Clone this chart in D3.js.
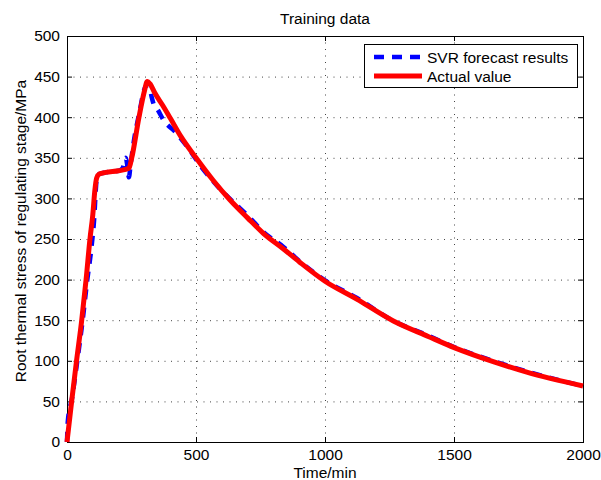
<!DOCTYPE html>
<html>
<head>
<meta charset="utf-8">
<script src="https://cdn.jsdelivr.net/npm/d3@7"></script>
<style>
	body { margin: 0; background: #fff; }
	svg { font-family: "Liberation Sans", Arial, sans-serif; }
</style>
</head>
<body>
<svg id="svg-port" width="601" height="480"></svg>
<script>
// values
var actualTime = [0, 18, 37, 57, 74, 89, 100, 108, 115, 125, 150, 200, 240, 251, 279, 300, 311, 322, 340, 370, 400, 440, 500, 567, 632, 700, 761, 838, 900, 1000, 1123, 1265, 1400, 1503, 1652, 1782, 2000];
var actualValue = [0, 50, 100, 150, 200, 250, 280, 310, 325, 330, 332, 334, 337, 350, 400, 432, 444, 441, 430, 415, 399, 377, 350, 322, 298, 276, 257, 238, 222, 198, 176, 149, 130, 116, 99, 86, 69];

var svrTime = [0, 3, 20, 40, 60, 78, 95, 106, 112, 116, 125, 150, 200, 215, 228, 233, 240, 246, 255, 280, 305, 318, 328, 336, 350, 373, 425, 470, 527, 570, 610, 650, 700, 760, 840, 900, 1000, 1120, 1260, 1400, 1500, 1650, 1780, 2000];
var svrValue = [0, 25, 55, 100, 148, 198, 240, 278, 312, 327, 330, 332, 334, 337, 350, 342, 326, 340, 362, 405, 438, 440, 425, 416, 410, 397, 380, 362, 336, 320, 306, 294, 279, 259, 240, 223, 199, 178, 150, 131, 117, 100, 87, 69];

var xTicks = [0, 500, 1000, 1500, 2000];
var yTicks = [0, 50, 100, 150, 200, 250, 300, 350, 400, 450, 500];
var legendLabels = ['SVR forecast results', 'Actual value'];

var svg = d3.select('#svg-port');
var plotLeft = 67, plotRight = 583, plotTop = 36, plotBottom = 442;

var xScale = d3.scaleLinear().domain([0, 2000]).range([plotLeft, plotRight]);
var yScale = d3.scaleLinear().domain([0, 500]).range([plotBottom, plotTop]);

///grid
var grid = svg.append('g');
grid.selectAll('.gx').data(xTicks.slice(1, -1)).enter()
	.append('line')
	.attr('x1', function (d) { return xScale(d) + 0.5 })
	.attr('x2', function (d) { return xScale(d) + 0.5 })
	.attr('y1', plotTop).attr('y2', plotBottom)
	.attr('stroke', '#444').attr('stroke-dasharray', '1,5.5');
grid.selectAll('.gy').data(yTicks.slice(1, -1)).enter()
	.append('line')
	.attr('y1', function (d) { return yScale(d) + 0.5 })
	.attr('y2', function (d) { return yScale(d) + 0.5 })
	.attr('x1', plotLeft).attr('x2', plotRight)
	.attr('stroke', '#444').attr('stroke-dasharray', '1,5.5');

///axes, ticks inside on all four sides
var tickLen = 5;
var xAxisBottom = d3.axisBottom(xScale).tickValues(xTicks).tickSizeInner(-tickLen).tickSizeOuter(0).tickPadding(7).tickFormat(d3.format('d'));
var xAxisTop = d3.axisTop(xScale).tickValues(xTicks).tickSizeInner(-tickLen).tickSizeOuter(0).tickFormat('');
var yAxisLeft = d3.axisLeft(yScale).tickValues(yTicks).tickSizeInner(-tickLen).tickSizeOuter(0).tickPadding(7).tickFormat(d3.format('d'));
var yAxisRight = d3.axisRight(yScale).tickValues(yTicks).tickSizeInner(-tickLen).tickSizeOuter(0).tickFormat('');

svg.append('g').attr('transform', 'translate(' + [0, plotBottom] + ')').call(xAxisBottom);
svg.append('g').attr('transform', 'translate(' + [0, plotTop] + ')').call(xAxisTop);
svg.append('g').attr('transform', 'translate(' + [plotLeft, 0] + ')').call(yAxisLeft);
svg.append('g').attr('transform', 'translate(' + [plotRight, 0] + ')').call(yAxisRight);

svg.selectAll('.domain').remove();
svg.selectAll('.tick line').attr('stroke', '#000');
svg.selectAll('.tick text').attr('font-size', '15.5px').attr('fill', '#000')
	.attr('font-family', '"Liberation Sans", Arial, sans-serif');

svg.append('rect')
	.attr('x', plotLeft + 0.5).attr('y', plotTop + 0.5)
	.attr('width', plotRight - plotLeft).attr('height', plotBottom - plotTop)
	.attr('fill', 'none').attr('stroke', '#000').attr('stroke-width', 1);

///series
var line = d3.line()
	.x(function (d) { return xScale(d[0]) })
	.y(function (d) { return yScale(d[1]) })
	.curve(d3.curveMonotoneX);

var svrData = svrTime.map(function (t, i) { return [t, svrValue[i]] });
var actualData = actualTime.map(function (t, i) { return [t, actualValue[i]] });

svg.append('path').datum(svrData)
	.attr('d', line)
	.attr('fill', 'none')
	.attr('stroke', '#0000ff')
	.attr('stroke-width', 4.5)
	.attr('stroke-dasharray', '10,8');

svg.append('path').datum(actualData)
	.attr('d', line)
	.attr('fill', 'none')
	.attr('stroke', '#ff0000')
	.attr('stroke-width', 5)
	.attr('stroke-linejoin', 'round');

///labels
svg.append('text')
	.attr('x', (plotLeft + plotRight) / 2).attr('y', 24)
	.attr('text-anchor', 'middle').attr('font-size', '15.5px')
	.text('Training data');

svg.append('text')
	.attr('x', (plotLeft + plotRight) / 2).attr('y', 478)
	.attr('text-anchor', 'middle').attr('font-size', '15.5px')
	.text('Time/min');

svg.append('text')
	.attr('transform', 'translate(' + [26, 231] + ') rotate(-90)')
	.attr('text-anchor', 'middle').attr('font-size', '15.5px')
	.text('Root thermal stress of regulating stage/MPa');

///legend
var legend = svg.append('g');
legend.append('rect')
	.attr('x', 364.5).attr('y', 44.5)
	.attr('width', 213).attr('height', 43)
	.attr('fill', '#fff').attr('stroke', '#000');

var rowY = [57, 76];
legend.selectAll('.lline').data(legendLabels).enter()
	.append('line')
	.attr('x1', 374).attr('x2', 422)
	.attr('y1', function (d, i) { return rowY[i] })
	.attr('y2', function (d, i) { return rowY[i] })
	.attr('stroke', function (d, i) { return i === 0 ? '#0000ff' : '#ff0000' })
	.attr('stroke-width', function (d, i) { return i === 0 ? 4.5 : 5 })
	.attr('stroke-dasharray', function (d, i) { return i === 0 ? '10,8' : null });

legend.selectAll('.ltext').data(legendLabels).enter()
	.append('text')
	.attr('x', 427)
	.attr('y', function (d, i) { return rowY[i] + 5.5 })
	.attr('font-size', '15.5px')
	.text(function (d) { return d });
</script>
</body>
</html>
